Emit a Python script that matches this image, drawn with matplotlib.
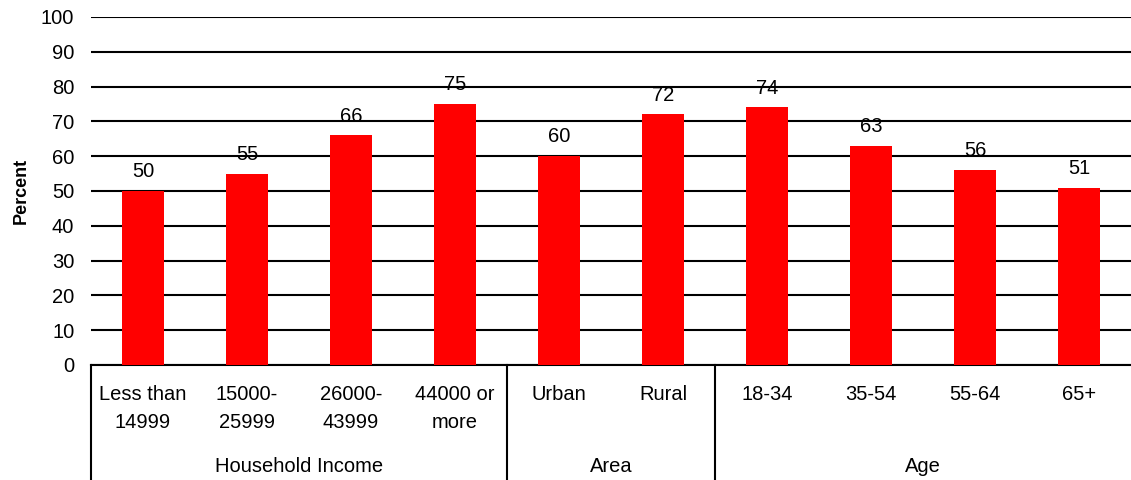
import matplotlib.pyplot as plt
import numpy as np

# survey results by group (percent)
categories = ['Less than\n14999', '15000-\n25999', '26000-\n43999', '44000 or\nmore',
              'Urban', 'Rural',
              '18-34', '35-54', '55-64', '65+']
values = [50, 55, 66, 75, 60, 72, 74, 63, 56, 51]
groups = ['Household Income', 'Area', 'Age']
group_sizes = [4, 2, 4]

FS = 14.5
plt.rcParams['font.family'] = ['Liberation Sans', 'DejaVu Sans']
plt.rcParams['font.size'] = FS

fig = plt.figure(figsize=(11.31, 4.8), dpi=100)
ax = fig.add_axes([91 / 1131, 115 / 480, 1 - 91 / 1131, 348 / 480])

x = np.arange(len(values))
bars = ax.bar(x, values, width=0.41, color='#ff0000', zorder=3)
for xi, v in zip(x, values):
    ax.annotate(str(v), (xi, v), xytext=(0, 7), textcoords='offset points',
                ha='center', va='bottom', fontsize=FS)

ax.set_xlim(-0.5, len(values) - 0.5)
ax.set_ylim(0, 100)
ax.set_yticks(range(0, 101, 10))
ax.yaxis.grid(True, color='black', linewidth=1.5, zorder=0)
ax.tick_params(axis='y', length=0, pad=12)
ax.tick_params(axis='x', length=0)
ax.set_xticks([])
for s in ['top', 'right', 'left']:
    ax.spines[s].set_visible(False)
ax.spines['bottom'].set_linewidth(1.5)
ax.set_ylabel('Percent', fontweight='bold', fontsize=13, labelpad=8)

# two-level category axis below the plot
trans = ax.get_xaxis_transform()
axis_bottom = -115 / 348
for xi, lab in zip(x, categories):
    ax.text(xi, -20 / 348, lab, transform=trans, ha='center', va='top',
            linespacing=1.6, fontsize=FS)

start = 0
for name, size in zip(groups, group_sizes):
    ax.plot([start - 0.5, start - 0.5], [0, axis_bottom], transform=trans,
            color='black', linewidth=1.5, clip_on=False)
    ax.text(start + (size - 1) / 2, -101 / 348, name, transform=trans,
            ha='center', va='center', fontsize=FS)
    start += size

fig.savefig('out.png', dpi=100)
